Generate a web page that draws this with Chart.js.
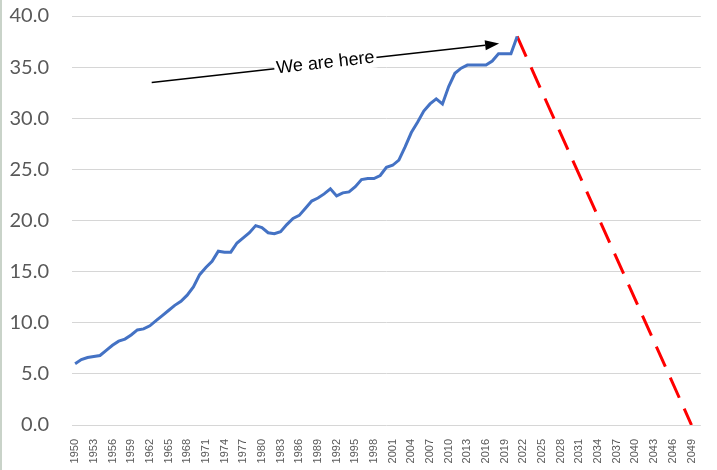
<!DOCTYPE html>
<html>
<head>
<meta charset="utf-8">
<script src="https://cdn.jsdelivr.net/npm/chart.js@4.4.1/dist/chart.umd.min.js"></script>
<style>
  html, body { margin: 0; padding: 0; background: #fff; }
  #wrap { position: relative; width: 717px; height: 470px; }
  #edge { position: absolute; left: 0; top: 0; width: 2px; height: 470px; background: #c9d3c9; }
</style>
</head>
<body>
<div id="wrap">
  <canvas id="chart" width="717" height="470"></canvas>
  <div id="edge"></div>
</div>
<script>
// Years on the category axis (1950 - 2050)
const years = [
  1950, 1951, 1952, 1953, 1954, 1955, 1956, 1957, 1958, 1959,
  1960, 1961, 1962, 1963, 1964, 1965, 1966, 1967, 1968, 1969,
  1970, 1971, 1972, 1973, 1974, 1975, 1976, 1977, 1978, 1979,
  1980, 1981, 1982, 1983, 1984, 1985, 1986, 1987, 1988, 1989,
  1990, 1991, 1992, 1993, 1994, 1995, 1996, 1997, 1998, 1999,
  2000, 2001, 2002, 2003, 2004, 2005, 2006, 2007, 2008, 2009,
  2010, 2011, 2012, 2013, 2014, 2015, 2016, 2017, 2018, 2019,
  2020, 2021, 2022, 2023, 2024, 2025, 2026, 2027, 2028, 2029,
  2030, 2031, 2032, 2033, 2034, 2035, 2036, 2037, 2038, 2039,
  2040, 2041, 2042, 2043, 2044, 2045, 2046, 2047, 2048, 2049,
  2050
];

// Historical values, 1950 - 2021
const history = [
  6.0, 6.4, 6.6, 6.7, 6.8, 7.3, 7.8, 8.2, 8.4, 8.8,
  9.3, 9.4, 9.7, 10.2, 10.7, 11.2, 11.7, 12.1, 12.7, 13.5,
  14.7, 15.4, 16.0, 17.0, 16.9, 16.9, 17.8, 18.3, 18.8, 19.5,
  19.3, 18.8, 18.7, 18.9, 19.6, 20.2, 20.5, 21.2, 21.9, 22.2,
  22.6, 23.1, 22.4, 22.7, 22.8, 23.3, 24.0, 24.1, 24.1, 24.4,
  25.2, 25.4, 25.9, 27.2, 28.6, 29.6, 30.7, 31.4, 31.9, 31.4,
  33.1, 34.4, 34.9, 35.2, 35.2, 35.2, 35.2, 35.6, 36.3, 36.3,
  36.3, 38.0
];

// Projection: straight drop from the 2021 peak to zero in 2049
const projectionYears = [2021, 2049];
const projectionValues = [38.0, 0.0];

// Y axis ticks
const yTicks = [0, 5, 10, 15, 20, 25, 30, 35, 40];

// Arrow annotation, in axis units (category index, value)
const note = {
  text: 'We are here',
  from: [12.3, 33.5],
  to: [68.1, 37.3]
};

const historyData = years.map((yr, i) => (i < history.length ? history[i] : null));
const projectionData = years.map(yr => {
  const k = projectionYears.indexOf(yr);
  return k >= 0 ? projectionValues[k] : null;
});

const arrowPlugin = {
  id: 'arrowNote',
  afterDatasetsDraw(chart) {
    const { ctx, scales: { x, y } } = chart;
    const x1 = x.getPixelForValue(note.from[0]), y1 = y.getPixelForValue(note.from[1]);
    const x2 = x.getPixelForValue(note.to[0]), y2 = y.getPixelForValue(note.to[1]);
    const ang = Math.atan2(y2 - y1, x2 - x1);
    const head = 14, half = 5;

    ctx.save();
    ctx.strokeStyle = '#000';
    ctx.fillStyle = '#000';
    ctx.lineWidth = 1.5;
    ctx.beginPath();
    ctx.moveTo(x1, y1);
    ctx.lineTo(x2 - head * Math.cos(ang), y2 - head * Math.sin(ang));
    ctx.stroke();

    // arrow head
    ctx.beginPath();
    ctx.moveTo(x2, y2);
    ctx.lineTo(x2 - head * Math.cos(ang) + half * Math.sin(ang), y2 - head * Math.sin(ang) - half * Math.cos(ang));
    ctx.lineTo(x2 - head * Math.cos(ang) - half * Math.sin(ang), y2 - head * Math.sin(ang) + half * Math.cos(ang));
    ctx.closePath();
    ctx.fill();

    // label sitting on the arrow
    const mx = (x1 + x2) / 2, my = (y1 + y2) / 2;
    ctx.translate(mx, my);
    ctx.rotate(ang);
    ctx.font = '18px "Liberation Sans", Arial, sans-serif';
    const w = ctx.measureText(note.text).width;
    ctx.fillStyle = '#fff';
    ctx.fillRect(-w / 2 - 2, -10, w + 4, 20);
    ctx.fillStyle = '#000';
    ctx.textAlign = 'center';
    ctx.textBaseline = 'middle';
    ctx.fillText(note.text, 0, 0);
    ctx.restore();
  }
};

const ctx = document.getElementById('chart').getContext('2d');
new Chart(ctx, {
  type: 'line',
  data: {
    labels: years,
    datasets: [
      {
        label: 'History',
        data: historyData,
        borderColor: '#4472C4',
        borderWidth: 3,
        pointRadius: 0,
        tension: 0,
        spanGaps: false
      },
      {
        label: 'Projection',
        data: projectionData,
        borderColor: '#FF0000',
        borderWidth: 3,
        borderDash: [22, 12],
        pointRadius: 0,
        tension: 0,
        spanGaps: true
      }
    ]
  },
  options: {
    responsive: false,
    animation: false,
    layout: { padding: { top: 16, right: 15, bottom: 0, left: 0 } },
    plugins: {
      legend: { display: false },
      tooltip: { enabled: false }
    },
    scales: {
      x: {
        type: 'category',
        offset: true,
        grid: { display: false },
        border: { display: false },
        ticks: {
          autoSkip: false,
          maxRotation: 90,
          minRotation: 90,
          padding: 6,
          color: '#595959',
          font: { family: '"Liberation Sans", Arial, sans-serif', size: 11 },
          callback: function(val, index) {
            return index % 3 === 0 ? this.getLabelForValue(val) : '';
          }
        },
        afterFit: function(scale) { scale.height = 45; }
      },
      y: {
        min: yTicks[0],
        max: yTicks[yTicks.length - 1],
        afterBuildTicks: function(scale) { scale.ticks = yTicks.map(v => ({ value: v })); },
        grid: { color: '#d6d6d6', lineWidth: 1, drawTicks: true, tickLength: 23, tickColor: 'rgba(0,0,0,0)' },
        border: { display: false },
        ticks: {
          padding: 0,
          color: '#595959',
          font: { family: 'Lato, "Open Sans", sans-serif', size: 20 },
          callback: v => v.toFixed(1)
        },
        afterFit: function(scale) { scale.width = 72; }
      }
    }
  },
  plugins: [arrowPlugin]
});
</script>
</body>
</html>
